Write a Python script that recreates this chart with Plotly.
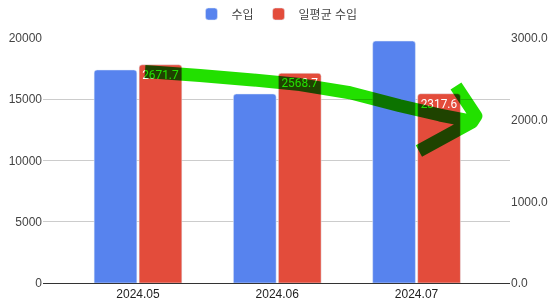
import plotly.graph_objects as go

categories = ["2024.05", "2024.06", "2024.07"]
income = [17390, 15430, 19750]
daily_avg = [2671.7, 2568.7, 2317.6]
daily_labels = ["2671.7", "2568.7", "2317.6"]

# hand-drawn green arrow overlay (x in category units, y on right axis)
arrow_main_x = [0.05, 0.445, 0.804, 1.163, 1.522, 1.881, 2.168, 2.383]
arrow_main_y = [2590, 2540, 2490, 2430, 2330, 2170, 2057, 1984]
arrow_head_x = [2.283, 2.426, 2.398, 2.017]
arrow_head_y = [2412, 2045, 1971, 1616]

BLUE = "#5783EE"
RED = "#E34C3B"
GREEN = "#22E000"
FONT = "Liberation Sans, Arial, Noto Sans CJK KR, sans-serif"

xs = list(range(len(categories)))

fig = go.Figure()
fig.add_trace(go.Bar(x=xs, y=income, name="수입", marker_color=BLUE,
                     yaxis="y", offsetgroup="a"))
fig.add_trace(go.Bar(x=xs, y=daily_avg, name="일평균 수입", marker_color=RED,
                     yaxis="y2", offsetgroup="b",
                     text=daily_labels, textposition="inside",
                     insidetextanchor="end", textangle=0,
                     textfont=dict(family="Roboto", size=12, color="white")))

def path_from(xv, yv):
    return "M" + " L".join(f"{x},{y}" for x, y in zip(xv, yv))

path = path_from(arrow_main_x, arrow_main_y) + " " + path_from(arrow_head_x, arrow_head_y)
fig.add_shape(type="path", path=path, xref="x", yref="y2",
              line=dict(color=GREEN, width=13), layer="above")

fig.update_layout(
    width=559, height=305,
    margin=dict(l=43, r=49, t=38, b=22, autoexpand=False),
    paper_bgcolor="white", plot_bgcolor="white",
    barmode="group", bargap=0.354, bargroupgap=0.05, barcornerradius=3,
    font=dict(family=FONT, size=12, color="#444"),
    showlegend=True,
    legend=dict(orientation="h", x=0.501, xanchor="center",
                y=1.098, yanchor="middle",
                font=dict(family=FONT, size=12, color="#444"),
                itemwidth=30, traceorder="normal"),
    xaxis=dict(tickmode="array", tickvals=xs, ticktext=categories,
               range=[-0.682, 2.671], showgrid=False, zeroline=False,
               showline=True, linecolor="#333", linewidth=1,
               ticks="", tickfont=dict(color="#222", size=12)),
    yaxis=dict(range=[0, 20000], dtick=5000, showgrid=True, gridcolor="#CCCCCC",
               zeroline=False, showline=False, ticks="", tickformat="d",
               tickfont=dict(color="#444", size=12)),
    yaxis2=dict(range=[0, 3000], dtick=1000, overlaying="y", side="right",
                showgrid=False, zeroline=False, showline=False, ticks="",
                tickformat=".1f", tickfont=dict(color="#444", size=12)),
)

post = """
function applyBlend(){
  var gd = document.getElementById('{plot_id}');
  if (!gd) return;
  gd.querySelectorAll('.shapelayer path').forEach(function(p){
    p.style.strokeLinejoin = 'round';
    p.style.mixBlendMode = 'multiply';
    var s = p.ownerSVGElement;
    if (s) { s.style.mixBlendMode = 'multiply'; }
  });
}
applyBlend();
setTimeout(applyBlend, 30);
"""

fig.write_html("out.html", post_script=post)
